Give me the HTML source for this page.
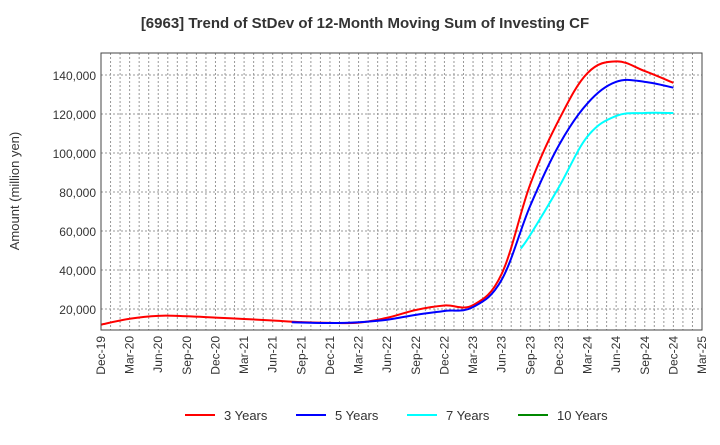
<!DOCTYPE html>
<html><head><meta charset="utf-8"><style>
body{margin:0;background:#fff;font-family:"Liberation Sans",sans-serif}
svg text{font-family:"Liberation Sans",sans-serif}
</style></head><body>
<svg id="c" width="720" height="440">
<text x="365" y="28" text-anchor="middle" font-size="15" font-weight="bold" fill="#333">[6963]  Trend of StDev of 12-Month Moving Sum of Investing CF</text>
<text transform="translate(19,191) rotate(-90)" text-anchor="middle" font-size="13" fill="#333">Amount (million yen)</text>
<g id="grid"></g><g id="series"></g><g id="axes"></g>
<g>
<line x1="185" y1="415" x2="215" y2="415" stroke="#f00" stroke-width="2"/><text x="224" y="420" font-size="13" fill="#333">3 Years</text>
<line x1="296" y1="415" x2="326" y2="415" stroke="#00f" stroke-width="2"/><text x="335" y="420" font-size="13" fill="#333">5 Years</text>
<line x1="407" y1="415" x2="437" y2="415" stroke="#0ff" stroke-width="2"/><text x="446" y="420" font-size="13" fill="#333">7 Years</text>
<line x1="518" y1="415" x2="548" y2="415" stroke="#080" stroke-width="2"/><text x="557" y="420" font-size="13" fill="#333">10 Years</text>
</g>
</svg>
<script>
const xLabels=["Dec-19","Mar-20","Jun-20","Sep-20","Dec-20","Mar-21","Jun-21","Sep-21","Dec-21","Mar-22","Jun-22","Sep-22","Dec-22","Mar-23","Jun-23","Sep-23","Dec-23","Mar-24","Jun-24","Sep-24","Dec-24","Mar-25"];
const yTicks=[20000,40000,60000,80000,100000,120000,140000];
const m3=[0,3,6,9,12,15,18,21,24,27,30,33,36,39,42,45,48,51,54,57,60];
const v3=[12000,15000,16500,16300,15600,14900,14100,13300,12900,13000,15500,19500,21800,22000,38000,84000,117000,141000,147000,142000,136000];
const m5=[20,24,27,30,33,36,39,42,45,48,51,54,57,60];
const v5=[13200,12800,13200,14500,17000,19000,21000,35000,73000,104000,125500,136500,136500,133500];
const m7=[44,45,48,51,54,57,60];
const v7=[51000,58000,82500,108500,119000,120500,120500];
const L=101,R=702,T=53,B=330;
const X=m=>L+m*(R-L)/63, Y=v=>348-v*39/20000;
const ns="http://www.w3.org/2000/svg";
function mk(t,a,p){const e=document.createElementNS(ns,t);for(const k in a)e.setAttribute(k,a[k]);p.appendChild(e);return e;}
const g=document.getElementById('grid'),ax=document.getElementById('axes'),s=document.getElementById('series');
for(let m=1;m<63;m++){const l=mk('line',{x1:X(m),x2:X(m),y1:T,y2:B,stroke:'#999','stroke-dasharray':'2,2'},g);

}
yTicks.forEach(v=>{const l=mk('line',{x1:L,x2:R,y1:Y(v),y2:Y(v),stroke:'#999','stroke-dasharray':'2,2'},g);


const t=mk('text',{x:L-5,y:Y(v)+5,'text-anchor':'end','font-size':'12',fill:'#333'},ax);t.textContent=v.toLocaleString('en-US');

});
const fr=mk('rect',{x:L,y:T,width:R-L,height:B-T,fill:'none',stroke:'#444'},ax);


xLabels.forEach((lb,i)=>{const x=X(i*3);const t=mk('text',{transform:`translate(${x+4},336) rotate(-90)`,'text-anchor':'end','font-size':'12',fill:'#333'},ax);t.textContent=lb;

});
function line(ms,vs,c,n){
const P=ms.map((m,i)=>[X(m),Y(vs[i])]);
let d='M'+P[0][0]+','+P[0][1];
for(let i=0;i<P.length-1;i++){const p0=P[i-1]||P[i],p1=P[i],p2=P[i+1],p3=P[i+2]||P[i+1];
const k=0.18;
d+=` C${p1[0]+(p2[0]-p0[0])*k},${p1[1]+(p2[1]-p0[1])*k} ${p2[0]-(p3[0]-p1[0])*k},${p2[1]-(p3[1]-p1[1])*k} ${p2[0]},${p2[1]}`;}
const p=mk('path',{d:d,fill:'none',stroke:c,'stroke-width':2,'stroke-linejoin':'round'},s);

}
line(m3,v3,'#f00','series-3-years');line(m5,v5,'#00f','series-5-years');line(m7,v7,'#0ff','series-7-years');
</script>
</body></html>
